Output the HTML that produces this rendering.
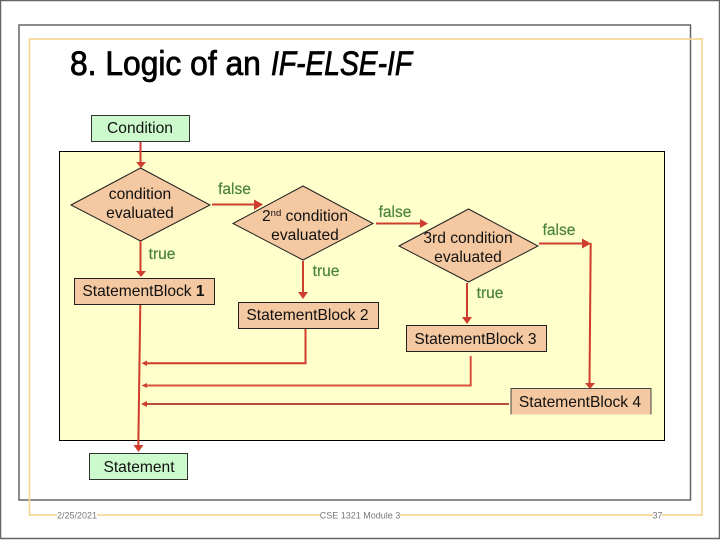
<!DOCTYPE html>
<html>
<head>
<meta charset="utf-8">
<style>
html,body{margin:0;padding:0;background:#fff}
svg{display:block;filter:blur(0.3px)}
text{font-family:"Liberation Sans",sans-serif}
.n{font-size:15.6px;fill:#111;text-anchor:middle}
.l{font-size:15.5px;fill:#4a8438;text-anchor:middle;stroke:#4a8438;stroke-width:.2}
.f{font-size:9px;fill:#777;text-anchor:middle}
.r{stroke:#cf3d2e;stroke-width:2;fill:none}
.h{fill:#cf3d2e}
.b{fill:#f4c8a0;stroke:#222;stroke-width:1}
.g{fill:#ccfacc;stroke:#333;stroke-width:1}
</style>
</head>
<body>
<svg width="720" height="540" viewBox="0 0 720 540" xmlns="http://www.w3.org/2000/svg">
<rect width="720" height="540" fill="#fff"/>
<path d="M0.500 539V0.500H719.500V538.500H0.500" fill="none" stroke="#666" stroke-width="1.5"/>
<rect x="19" y="25" width="671.500" height="475" fill="none" stroke="#666" stroke-width="1.5"/>
<rect x="29.500" y="39" width="672.500" height="476" fill="none" stroke="#f5d694" stroke-width="1.7"/>

<text transform="translate(70 75) scale(.935 1)" font-size="34" fill="#000" stroke="#000" stroke-width=".8">8. Logic of an</text>
<text transform="translate(271 75) scale(.83 1)" font-size="34" font-style="italic" fill="#000" stroke="#000" stroke-width=".8">IF-ELSE-IF</text>

<rect x="91.500" y="115.500" width="98" height="26" class="g"/>
<text x="140" y="133" class="n">Condition</text>

<rect x="59.500" y="151.500" width="605" height="289" fill="#ffffcc" stroke="#000" stroke-width="1"/>

<path class="r" d="M140.500 142V163"/>
<polygon class="h" points="136,162 146,162 141,168"/>

<polygon class="b" points="71,205 140.500,168 210,205 140.500,241"/>
<text x="140" y="199" class="n">condition</text>
<text x="140" y="218" class="n">evaluated</text>

<text x="234.500" y="194" class="l">false</text>
<path class="r" d="M212 204.500H255"/>
<polygon class="h" points="254,199.500 263,204.500 254,210"/>

<polygon class="b" points="233,223.500 303,186 373,223.500 303,260"/>
<text x="305" y="221" class="n">2<tspan font-size="9.500" dy="-5">nd</tspan><tspan dy="5"> condition</tspan></text>
<text x="305" y="240" class="n">evaluated</text>

<text x="395" y="217" class="l">false</text>
<path class="r" d="M376 223.500H421"/>
<polygon class="h" points="420,219 428,223.500 420,228"/>

<polygon class="b" points="399,246 468.500,209 538,246 468.500,282"/>
<text x="468" y="243" class="n">3rd condition</text>
<text x="468" y="262" class="n">evaluated</text>

<text x="559" y="235" class="l">false</text>
<path class="r" d="M539 243.500H584"/>
<polygon class="h" points="582,238.500 591,243.500 582,248.500"/>
<path class="r" d="M590.700 243L589.500 385"/>
<polygon class="h" points="585,383 595,383 590,389"/>

<path class="r" d="M140.500 241V272"/>
<polygon class="h" points="136,271 146,271 141,277"/>
<text x="162" y="259" class="l">true</text>

<rect x="74.500" y="278.500" width="140" height="26" class="b"/>
<text x="143.500" y="296" class="n">StatementBlock <tspan font-weight="bold">1</tspan></text>

<path class="r" d="M303 261V293"/>
<polygon class="h" points="298,292 308,292 303,299"/>
<text x="326" y="276" class="l">true</text>

<rect x="238.500" y="302.500" width="140" height="26" class="b"/>
<text x="307.500" y="320" class="n">StatementBlock 2</text>

<path class="r" d="M467 283V318"/>
<polygon class="h" points="462,317 472,317 467,324"/>
<text x="490" y="298" class="l">true</text>

<rect x="406.500" y="325.500" width="140" height="26" class="b"/>
<text x="475.500" y="344" class="n">StatementBlock 3</text>

<rect x="511" y="388.500" width="140" height="26" fill="#f4c8a0"/>
<path d="M511 414.500V388.500H651V414.500" fill="none" stroke="#444"/>
<text x="580" y="407" class="n">StatementBlock 4</text>

<path class="r" d="M140.300 305L138.300 447"/>
<polygon class="h" points="133.500,445 143.500,445 138.500,452"/>

<path class="r" d="M305.500 329V363.300H146"/>
<polygon class="h" points="141.500,363.300 147,360.500 147,366"/>
<path d="M470.700 356V385.500H146" fill="none" stroke="#d9503d" stroke-width="2"/>
<polygon class="h" points="141.500,385.500 147,383 147,388"/>
<path d="M509 404H146" fill="none" stroke="#b5503d" stroke-width="2"/>
<polygon class="h" points="141,404 147,401 147,407"/>

<rect x="89.500" y="453.500" width="98" height="26" class="g"/>
<text x="139" y="472" class="n">Statement</text>

<rect x="57" y="512" width="40" height="7" fill="#fff"/>
<rect x="320" y="512" width="80" height="7" fill="#fff"/>
<rect x="653" y="512" width="9" height="7" fill="#fff"/>
<text x="77" y="518.500" class="f">2/25/2021</text>
<text x="360" y="518.500" class="f">CSE 1321 Module 3</text>
<text x="657.500" y="518.500" class="f">37</text>
</svg>
</body>
</html>
